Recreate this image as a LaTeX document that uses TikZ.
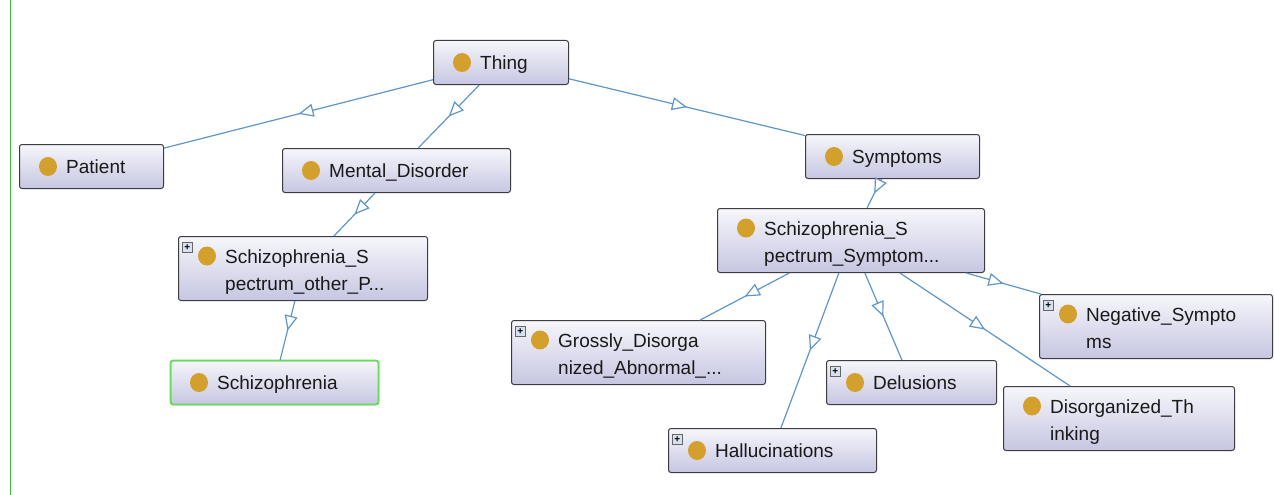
\documentclass[tikz,border=0pt]{standalone}
\usepackage{fontspec}
\setmainfont{Liberation Sans}
\usetikzlibrary{arrows.meta,decorations.markings,calc,shapes.geometric}
\definecolor{edgeblue}{RGB}{95,150,200}
\definecolor{boxtop}{RGB}{246,246,251}
\definecolor{boxbot}{RGB}{198,198,226}
\definecolor{boxline}{RGB}{60,60,65}
\definecolor{dotgold}{RGB}{212,160,45}
\definecolor{selgreen}{RGB}{100,222,85}
\definecolor{sidegreen}{RGB}{60,185,60}
\definecolor{plusfill}{RGB}{215,225,240}
\tikzset{
  clsbox/.style={draw=boxline, line width=1pt, rounded corners=2.5pt, top color=boxtop, bottom color=boxbot, inner sep=0pt},
  dot/.style={ellipse, fill=dotgold, minimum width=18pt, minimum height=19pt, inner sep=0pt},
  lbl/.style={anchor=base west, inner sep=0pt, font=\fontsize{19}{27}\selectfont, text=black!90},
  plusbox/.style={draw=gray!80!black, fill=plusfill, minimum size=10pt, inner sep=0pt, font=\fontsize{10}{10}\selectfont\bfseries},
  edge/.style={draw=edgeblue, line width=1.2pt, postaction={decorate},
    decoration={markings, mark=at position 0.5 with {\arrow{Triangle[length=15pt,width=13pt,fill=white]}}}},
}
\newcommand\oneline[6]{% name, left, top, w, h, text
  \node[clsbox, minimum width=#4pt, minimum height=#5pt, anchor=north west] (#1) at (#2,#3) {};
  \node[dot] (#1-dot) at ($(#1.west)+(29,0)$) {};
  \node[lbl] (#1-t) at ($(#1.west)+(47,7)$) {#6};
}
\newcommand\twoline[7]{% name, left, top, w, h, line1, line2
  \node[clsbox, minimum width=#4pt, minimum height=#5pt, anchor=north west] (#1) at (#2,#3) {};
  \node[dot] (#1-dot) at ($(#1.north west)+(29,20)$) {};
  \node[lbl] (#1-t1) at ($(#1.north west)+(47,27)$) {#6};
  \node[lbl] (#1-t2) at ($(#1.north west)+(47,54)$) {#7};
}
\newcommand\plusmark[1]{%
  \node[plusbox, anchor=north west] (#1-plus) at ($(#1.north west)+(4,6)$) {+};
}
\begin{document}
\begin{tikzpicture}[x=1pt,y=-1pt]
\useasboundingbox[fill=white] (0,0) rectangle (1274,495);
\draw[sidegreen, line width=1pt] (10,0) coordinate (g1) -- (10,495) coordinate (g2);

\oneline{thing}{433}{40}{135}{44}{Thing}
\oneline{patient}{19}{144}{144}{44}{Patient}
\oneline{mental}{282}{148}{228}{44}{Mental\_Disorder}
\oneline{symptoms}{805}{134}{174}{44}{Symptoms}
\twoline{ssop}{178}{236}{249}{64}{Schizophrenia\_S}{pectrum\_other\_P...}
\plusmark{ssop}
\oneline{schizo}{170}{360}{208}{44}{Schizophrenia}
\node[draw=selgreen, line width=1.6pt, rounded corners=2.5pt, minimum width=208pt, minimum height=44pt, inner sep=0pt] (schizo-sel) at (schizo) {};
\twoline{sss}{717}{208}{267}{64}{Schizophrenia\_S}{pectrum\_Symptom...}
\twoline{grossly}{511}{320}{254}{64}{Grossly\_Disorga}{nized\_Abnormal\_...}
\plusmark{grossly}
\twoline{negative}{1039}{294}{233}{64}{Negative\_Sympto}{ms}
\plusmark{negative}
\oneline{delusions}{826}{360}{170}{44}{Delusions}
\plusmark{delusions}
\twoline{disorg}{1003}{386}{231}{64}{Disorganized\_Th}{inking}
\oneline{halluc}{668}{428}{208}{44}{Hallucinations}
\plusmark{halluc}

\path[edge] (thing) -- (patient);
\path[edge] (thing) -- (mental);
\path[edge] (thing) -- (symptoms);
\path[edge] (mental) -- (ssop);
\path[edge] (ssop) -- (schizo);
\path[edge] (symptoms) -- (sss);
\path[edge] (sss) -- (grossly);
\path[edge] (sss) -- (halluc);
\path[edge] (sss) -- (delusions);
\path[edge] (sss) -- (disorg);
\path[edge] (sss) -- (negative);
\end{tikzpicture}
\end{document}
